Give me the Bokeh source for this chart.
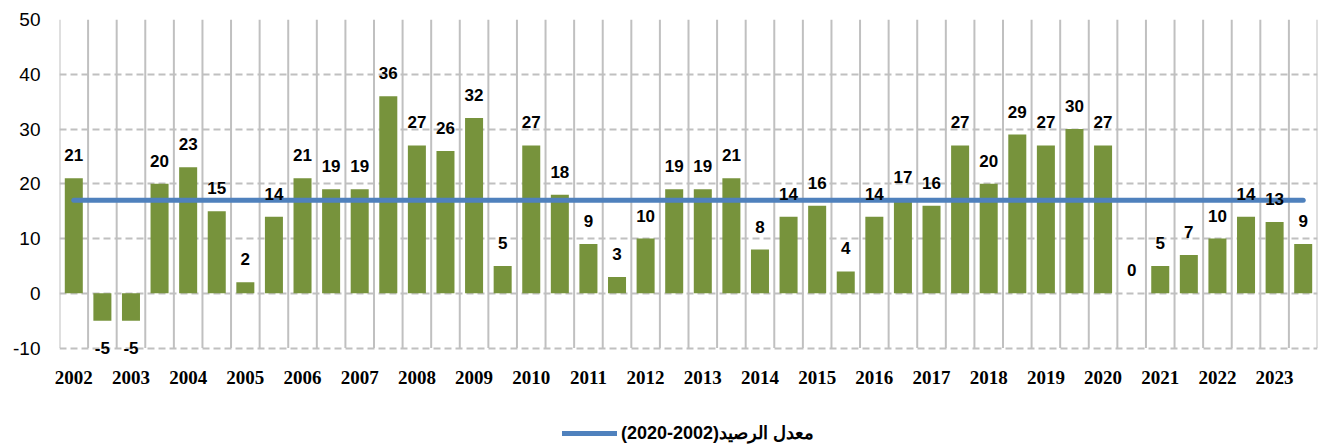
from bokeh.plotting import figure
from bokeh.layouts import column
from bokeh.models import Range1d, FixedTicker, Legend, LegendItem, ColumnDataSource
from bokeh.core.properties import value
from bokeh.embed import file_html
from bokeh.resources import INLINE

YEARS = ["2002", "2003", "2004", "2005", "2006", "2007", "2008", "2009", "2010", "2011", "2012",
         "2013", "2014", "2015", "2016", "2017", "2018", "2019", "2020", "2021", "2022", "2023"]
VALUES = [21, -5, -5, 20, 23, 15, 2, 14, 21, 19, 19, 36, 27, 26, 32, 5, 27, 18, 9, 3, 10, 19,
          19, 21, 8, 14, 16, 4, 14, 17, 16, 27, 20, 29, 27, 30, 27, 0, 5, 7, 10, 14, 13, 9]
Y_TICKS = [-10, 0, 10, 20, 30, 40, 50]
AVERAGE = 17.0
LEGEND_LABEL = "\u202bمعدل الرصيد(2002\u200f-\u200f2020)\u202c"

BAR_COLOR = "#77933C"
LINE_COLOR = "#4F81BD"
GRID_COLOR = "#C0C0C0"

n = len(VALUES)
idx = list(range(n))
W = 1318

p = figure(width=W, height=424, x_range=Range1d(-0.5, n - 0.5),
           y_range=Range1d(Y_TICKS[0] - 3, Y_TICKS[-1]),
           output_backend="svg", toolbar_location=None,
           min_border_left=59, min_border_right=1, min_border_top=19, min_border_bottom=60)
p.outline_line_color = None
p.background_fill_color = "white"

# grids
p.ygrid.ticker = FixedTicker(ticks=Y_TICKS)
p.ygrid.grid_line_color = GRID_COLOR
p.ygrid.grid_line_width = 2
p.ygrid.grid_line_dash = "7 4"
p.xgrid.grid_line_color = None
bounds = [i - 0.5 for i in range(n + 1)]
p.segment(x0=bounds, x1=bounds, y0=[Y_TICKS[0]] * len(bounds), y1=[Y_TICKS[-1]] * len(bounds),
          line_color=GRID_COLOR, line_width=2)

# axes
p.yaxis.ticker = FixedTicker(ticks=Y_TICKS)
p.yaxis.major_label_overrides = {t: str(t) for t in Y_TICKS}
p.yaxis.axis_line_color = None
p.yaxis.major_tick_line_color = None
p.yaxis.minor_tick_line_color = None
p.yaxis.major_tick_out = 0
p.yaxis.major_tick_in = 0
p.yaxis.major_label_standoff = 19
p.yaxis.major_label_text_font = "Liberation Sans"
p.yaxis.major_label_text_font_size = "19px"
p.yaxis.major_label_text_color = "#000000"

year_ticks = list(range(0, n, 2))
p.xaxis.ticker = FixedTicker(ticks=year_ticks)
p.xaxis.major_label_overrides = {t: YEARS[i] for i, t in enumerate(year_ticks)}
p.xaxis.axis_line_color = None
p.xaxis.major_tick_line_color = None
p.xaxis.minor_tick_line_color = None
p.xaxis.major_tick_out = 0
p.xaxis.major_tick_in = 0
p.xaxis.major_label_standoff = 6
p.xaxis.major_label_text_font = "Liberation Serif"
p.xaxis.major_label_text_font_style = "bold"
p.xaxis.major_label_text_font_size = "19px"
p.xaxis.major_label_text_color = "#000000"

# bars
p.vbar(x=idx, top=VALUES, bottom=0, width=0.63, fill_color=BAR_COLOR, line_color=None)

# average line
p.line(x=[idx[0], idx[-1]], y=[AVERAGE, AVERAGE], line_width=5,
       line_color=LINE_COLOR, line_cap="round")

# value labels
pos = [(i, v) for i, v in zip(idx, VALUES) if v >= 0]
neg = [(i, v) for i, v in zip(idx, VALUES) if v < 0]
src_pos = ColumnDataSource(dict(x=[a for a, b in pos], y=[b for a, b in pos], t=[str(b) for a, b in pos]))
src_neg = ColumnDataSource(dict(x=[a for a, b in neg], y=[b for a, b in neg], t=[str(b) for a, b in neg]))
for src, off in ((src_pos, -23), (src_neg, 27)):
    p.text(x="x", y="y", text="t", source=src, y_offset=off, text_align="center",
           text_baseline="middle", text_font=value("Liberation Sans"), text_font_style="bold",
           text_font_size="17px", text_color="#000000")

# legend strip below the chart (its line is the same average series, out of view)
lf = figure(width=W, height=20, x_range=Range1d(-0.5, n - 0.5), y_range=Range1d(0, 1),
            output_backend="svg", toolbar_location=None,
            x_axis_location=None, y_axis_location=None,
            min_border_left=59, min_border_right=1, min_border_top=0, min_border_bottom=0)
lf.outline_line_color = None
lf.grid.visible = False
proxy = lf.line(x=[idx[0], idx[-1]], y=[AVERAGE, AVERAGE], line_width=5,
                line_color=LINE_COLOR, line_cap="round")
legend = Legend(items=[LegendItem(label=LEGEND_LABEL, renderers=[proxy])],
                location="bottom_center", orientation="horizontal",
                border_line_color=None, background_fill_alpha=0,
                label_text_font="Liberation Sans", label_text_font_style="bold",
                label_text_font_size="18px", label_text_color="#000000",
                glyph_width=55, glyph_height=16, label_standoff=4,
                padding=0, spacing=0, margin=0)
lf.add_layout(legend, "center")

layout = column(p, lf, spacing=0)
open("out.html", "w").write(file_html(layout, INLINE))
